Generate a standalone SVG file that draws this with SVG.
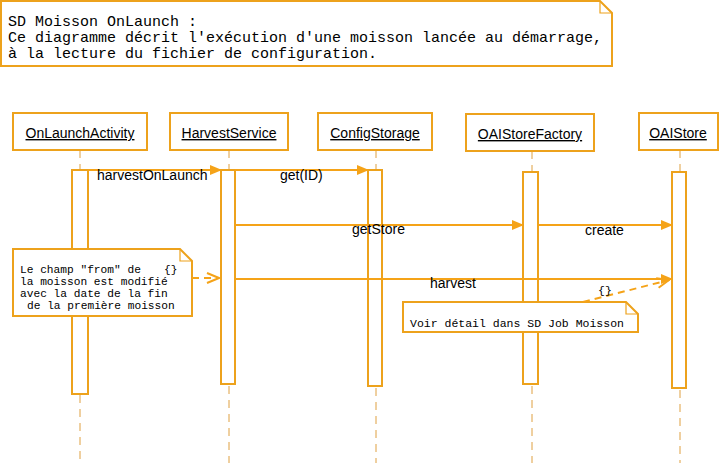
<svg xmlns="http://www.w3.org/2000/svg" width="719" height="463" viewBox="0 0 719 463">
<style>
.box{fill:#fff;stroke:#EDA21C;stroke-width:2}
.note{fill:#fff;stroke:#EDA21C;stroke-width:2}
.fold{fill:none;stroke:#EDA21C;stroke-width:1.2}
.act{fill:#fff;stroke:#EDA21C;stroke-width:2}
.life{stroke:#DFA040;stroke-width:1;stroke-dasharray:8 6;fill:none}
.msg{stroke:#F5A318;stroke-width:2;fill:none}
.dep{stroke:#F5A318;stroke-width:2;stroke-dasharray:7 5;fill:none}
.hdr{font-family:"Liberation Sans",Arial,sans-serif;font-size:14px;fill:#000;text-decoration:underline}
.lbl{font-family:"Liberation Sans",Arial,sans-serif;font-size:14px;fill:#000}
.mono{font-family:"Liberation Mono","Courier New",monospace;fill:#000}
</style>
<defs>
<marker id="fill" markerWidth="12" markerHeight="10" refX="11" refY="5" orient="auto" markerUnits="userSpaceOnUse">
<path d="M0,0 L12,5 L0,10 Z" fill="#F5A318"/>
</marker>
<marker id="open" markerWidth="14" markerHeight="12" refX="13" refY="6" orient="auto" markerUnits="userSpaceOnUse">
<path d="M1,1 L13,6 L1,11" fill="none" stroke="#F5A318" stroke-width="2"/>
</marker>
</defs>

<g id="title-note">
<path class="note" d="M1,1 H600 L612,13 V66 H1 Z"/>
<path class="fold" d="M600,1 V13 H612"/>
<text class="mono" font-size="15" x="8" y="26">SD Moisson OnLaunch :</text>
<text class="mono" font-size="15" x="8" y="42">Ce diagramme décrit l'exécution d'une moisson lancée au démarrage,</text>
<text class="mono" font-size="15" x="8" y="58">à la lecture du fichier de configuration.</text>
</g>

<g id="lifelines">
<line class="life" x1="80" y1="150" x2="80" y2="170"/>
<line class="life" x1="80" y1="395" x2="80" y2="463"/>
<line class="life" x1="229" y1="150" x2="229" y2="170"/>
<line class="life" x1="229" y1="386" x2="229" y2="463"/>
<line class="life" x1="376" y1="150" x2="376" y2="170"/>
<line class="life" x1="376" y1="388" x2="376" y2="463"/>
<line class="life" x1="532" y1="151" x2="532" y2="172"/>
<line class="life" x1="532" y1="386" x2="532" y2="463"/>
<line class="life" x1="680" y1="150" x2="680" y2="172"/>
<line class="life" x1="680" y1="390" x2="680" y2="463"/>
</g>

<g id="OnLaunchActivity">
<rect class="box" x="13" y="113" width="134" height="37"/>
<text class="hdr" x="80" y="138" text-anchor="middle">OnLaunchActivity</text>
<rect class="act" x="72" y="170" width="16" height="224"/>
</g>
<g id="HarvestService">
<rect class="box" x="170" y="113" width="118" height="37"/>
<text class="hdr" x="229" y="138" text-anchor="middle">HarvestService</text>
<rect class="act" x="221" y="170" width="14" height="214"/>
</g>
<g id="ConfigStorage">
<rect class="box" x="318" y="113" width="114" height="37"/>
<text class="hdr" x="375" y="138" text-anchor="middle">ConfigStorage</text>
<rect class="act" x="368" y="170" width="14" height="216"/>
</g>
<g id="OAIStoreFactory">
<rect class="box" x="466" y="114" width="128" height="37"/>
<text class="hdr" x="530" y="139" text-anchor="middle">OAIStoreFactory</text>
<rect class="act" x="523" y="172" width="15" height="212"/>
</g>
<g id="OAIStore">
<rect class="box" x="639" y="113" width="79" height="37"/>
<text class="hdr" x="678" y="138" text-anchor="middle">OAIStore</text>
<rect class="act" x="672" y="172" width="14" height="216"/>
</g>

<g id="note-from">
<path class="note" d="M13,249 H180 L192,261 V316 H13 Z"/>
<path class="fold" d="M180,249 V261 H192"/>
<text class="mono" font-size="11.2" x="20" y="273">Le champ "from" de</text>
<text class="mono" font-size="11.2" x="20" y="285">la moisson est modifié</text>
<text class="mono" font-size="11.2" x="20" y="297">avec la date de la fin</text>
<text class="mono" font-size="11.2" x="27" y="309">de la première moisson</text>
</g>

<g id="note-detail">
<path class="note" d="M403,302 H626 L638,314 V332 H403 Z"/>
<path class="fold" d="M626,302 V314 H638"/>
<text class="mono" font-size="11.5" x="410" y="327">Voir détail dans SD Job Moisson</text>
</g>

<g id="connectors">
<line class="msg" x1="88" y1="170" x2="221" y2="170" marker-end="url(#fill)"/>
<text class="lbl" x="97" y="180">harvestOnLaunch</text>
<line class="msg" x1="235" y1="170" x2="368" y2="170" marker-end="url(#fill)"/>
<text class="lbl" x="280" y="180">get(ID)</text>
<line class="msg" x1="235" y1="225" x2="523" y2="225" marker-end="url(#fill)"/>
<text class="lbl" x="352" y="234">getStore</text>
<line class="msg" x1="538" y1="225" x2="672" y2="225" marker-end="url(#fill)"/>
<text class="lbl" x="585" y="235">create</text>
<line class="msg" x1="235" y1="279" x2="672" y2="279" marker-end="url(#fill)"/>
<text class="lbl" x="430" y="288">harvest</text>
<line class="dep" x1="192" y1="278" x2="219" y2="278" marker-end="url(#open)"/>
<text class="mono" font-size="11.2" x="164" y="273">{}</text>
<line class="dep" x1="583" y1="302" x2="669" y2="280" marker-end="url(#open)"/>
<text class="mono" font-size="11.5" x="598" y="294">{}</text>
</g>
</svg>
